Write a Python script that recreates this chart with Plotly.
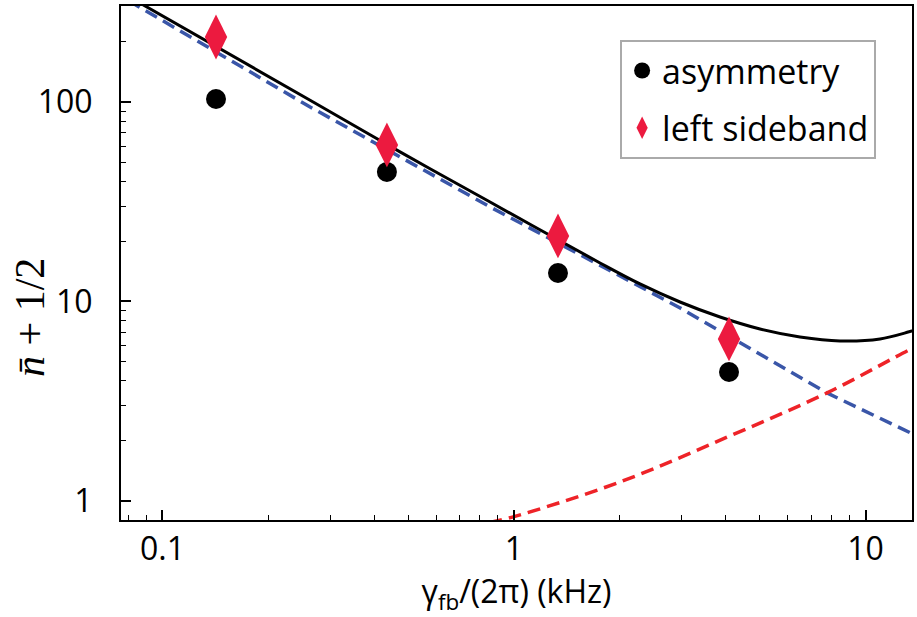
import plotly.graph_objects as go

# measured data
gamma_pts = [0.142, 0.435, 1.334, 4.09]
asymmetry = [103.5, 44.6, 13.9, 4.43]
left_sideband = [211.7, 60.9, 21.3, 6.49]

# theory curves
x_blue = [0.08, 0.263, 0.855, 2.97, 7.77, 14.0]
y_blue = [322, 94.4, 29.8, 9.28, 3.48, 2.12]

x_red = [0.85, 1.0, 2.0, 4.04, 7.77, 13.47, 14.0]
y_red = [0.78, 0.835, 1.245, 2.09, 3.48, 5.78, 5.95]

x_black = [0.085, 0.263, 0.474, 0.855, 1.757, 2.283, 2.967, 3.856, 5.01, 6.51, 8.46, 11.0, 13.56, 14.0]
y_black = [318, 102, 56.2, 31.5, 15.6, 12.24, 9.94, 8.36, 7.28, 6.64, 6.34, 6.49, 7.11, 7.2]

x_ticks = [0.1, 1, 10]
x_ticktext = ["0.1", "1", "10"]
x_minor = [0.08, 0.09, 0.2, 0.3, 0.4, 0.5, 0.6, 0.7, 0.8, 0.9, 2, 3, 4, 5, 6, 7, 8, 9]
y_ticks = [1, 10, 100]
y_ticktext = ["1", "10", "100"]
y_minor = [2, 3, 4, 5, 6, 7, 8, 9, 20, 30, 40, 50, 60, 70, 80, 90, 200, 300]

FONT = "Open Sans"

fig = go.Figure()
fig.add_trace(go.Scatter(x=x_blue, y=y_blue, mode="lines", showlegend=False,
                         line=dict(color="#3A56A8", width=3.5, dash="13px,7px")))
fig.add_trace(go.Scatter(x=x_red, y=y_red, mode="lines", line_shape="spline", showlegend=False,
                         line=dict(color="#EE2328", width=3.5, dash="13px,7px")))
fig.add_trace(go.Scatter(x=x_black, y=y_black, mode="lines", line_shape="spline", showlegend=False,
                         line=dict(color="black", width=3)))
fig.add_trace(go.Scatter(x=gamma_pts, y=asymmetry, mode="markers", name="asymmetry",
                         legendgroup="a",
                         marker=dict(symbol="circle", size=20, color="black")))
fig.add_trace(go.Scatter(x=gamma_pts, y=left_sideband, mode="markers", name="left sideband",
                         legendgroup="b",
                         marker=dict(symbol="diamond-tall", size=32, color="#EC1A3F")))

axis_common = dict(
    type="log", showgrid=False, zeroline=False, automargin=False,
    showline=True, linecolor="black", linewidth=2, mirror=True,
    ticks="inside", ticklen=10, tickwidth=1.5, tickcolor="black",
    tickfont=dict(family=FONT, size=32, color="black"),
)

fig.update_xaxes(**axis_common, range=[-1.118, 1.1323], tickvals=x_ticks, ticktext=x_ticktext,
                 ticklabelstandoff=0,
                 minor=dict(ticks="inside", ticklen=5, tickwidth=1, tickcolor="black",
                            showgrid=False, tickvals=x_minor),
                 title=dict(text="γ<sub>fb</sub>/(2π) (kHz)", font=dict(family=FONT, size=32, color="black"),
                            standoff=25))
fig.update_yaxes(**axis_common, range=[-0.0952, 2.481], tickvals=y_ticks, ticktext=y_ticktext,
                 ticklabelstandoff=20,
                 minor=dict(ticks="inside", ticklen=5, tickwidth=1, tickcolor="black",
                            showgrid=False, tickvals=y_minor))

fig.add_annotation(text="<i>n̄</i> + 1/2", xref="paper", yref="paper",
                   x=-0.115, y=0.393, xanchor="center", yanchor="middle",
                   textangle=-90, showarrow=False,
                   font=dict(family="serif", size=42, color="black"))

fig.update_layout(
    width=917, height=617,
    margin=dict(l=121, r=5, t=6, b=97),
    plot_bgcolor="white", paper_bgcolor="white",
    legend=dict(x=0.631, y=0.934, xanchor="left", yanchor="top",
                bgcolor="white", bordercolor="#AAAAAA", borderwidth=2,
                font=dict(family=FONT, size=34, color="black"),
                tracegroupgap=10),
)

fig.write_html("out.html", config={"displayModeBar": False},
               post_script="document.body.style.margin='0';document.body.style.overflow='hidden';")
